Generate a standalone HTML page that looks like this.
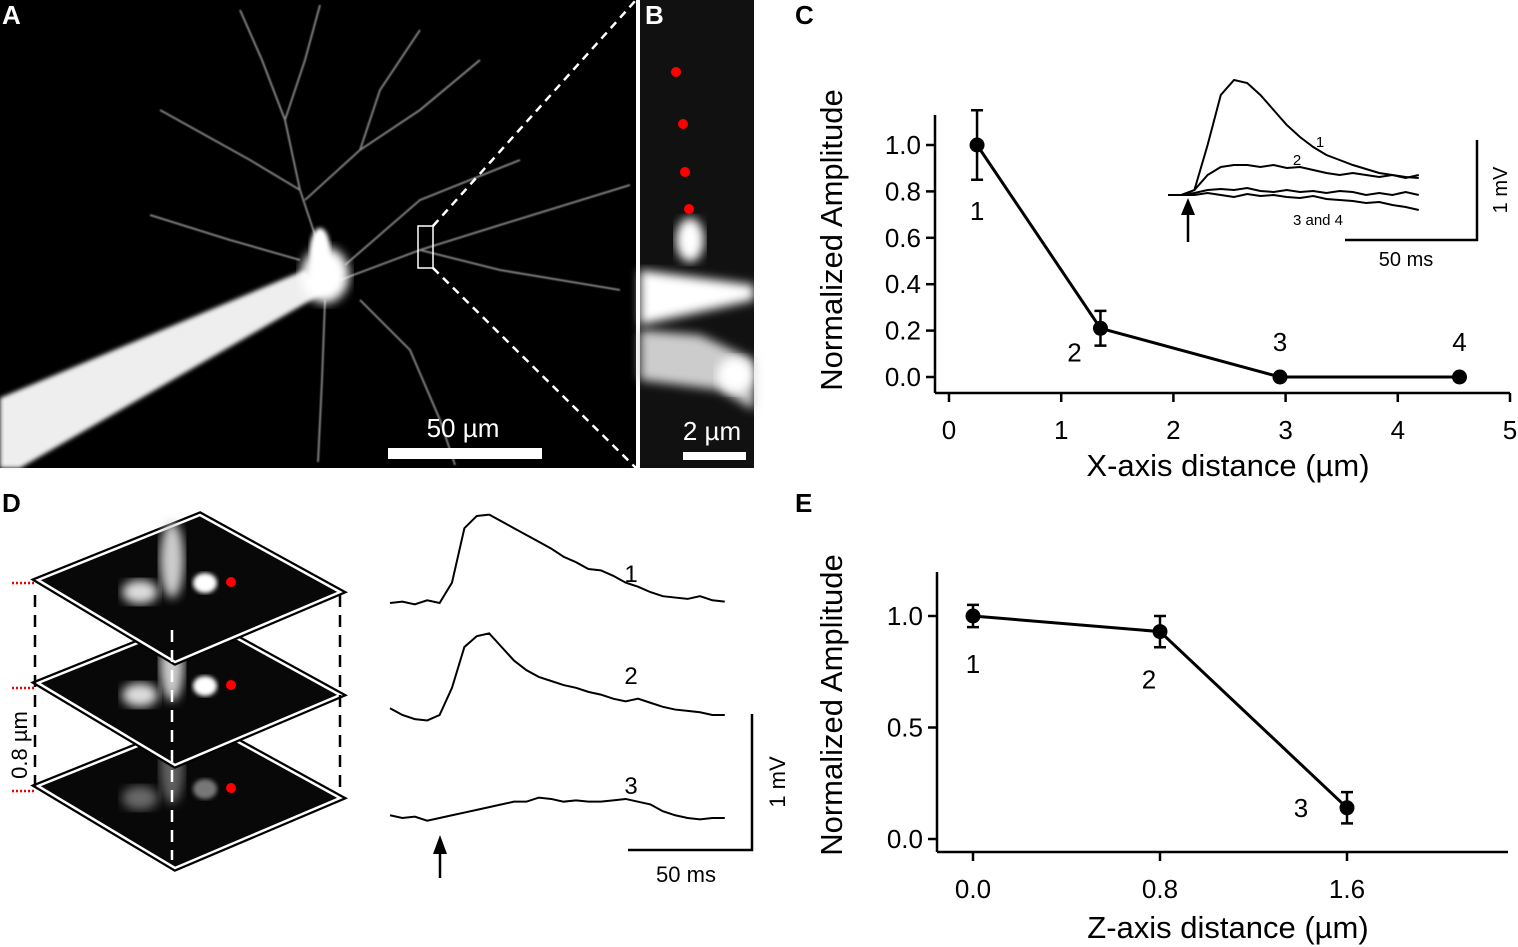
<!DOCTYPE html>
<html><head><meta charset="utf-8">
<style>
html,body{margin:0;padding:0;background:#fff;}
svg{display:block;font-family:"Liberation Sans",sans-serif;}
</style></head>
<body>
<svg id="fig" width="1518" height="947" viewBox="0 0 1518 947" xmlns="http://www.w3.org/2000/svg">
<defs>
<filter id="blur2"><feGaussianBlur stdDeviation="2"/></filter>
<filter id="blur5"><feGaussianBlur stdDeviation="5"/></filter>
<filter id="blur1"><feGaussianBlur stdDeviation="0.8"/></filter>
</defs>

<!-- Panel A -->
<g>
<rect x="0" y="0" width="636" height="468" fill="#000"/>
<g stroke="#bbb" stroke-width="1.8" fill="none" filter="url(#blur1)" opacity="0.75">
<path d="M320,250 L300,190 L285,120 L262,60 L240,10"/>
<path d="M285,120 L305,60 L320,5"/>
<path d="M300,190 L250,160 L160,110"/>
<path d="M305,200 L360,150 L420,110 L480,60"/>
<path d="M360,150 L380,90 L420,30"/>
<path d="M340,280 L420,250 L500,225 L630,185"/>
<path d="M420,250 L500,270 L620,290"/>
<path d="M325,300 L322,380 L318,462"/>
<path d="M360,300 L410,350 L440,420 L455,465"/>
<path d="M300,260 L230,240 L150,215"/>
<path d="M345,265 L420,200 L520,160"/>
</g>
<polygon points="0,398 0,468 20,468 325,292 305,270" fill="#eee" filter="url(#blur2)"/>
<ellipse cx="325" cy="275" rx="24" ry="28" fill="#fff" filter="url(#blur5)"/>
<ellipse cx="320" cy="250" rx="10" ry="22" fill="#fff" filter="url(#blur2)"/>
<rect x="418" y="226" width="15" height="42" fill="none" stroke="#fff" stroke-width="1.5"/>
<line x1="433" y1="226" x2="636" y2="0" stroke="#fff" stroke-width="2.5" stroke-dasharray="8,6"/>
<line x1="433" y1="268" x2="636" y2="468" stroke="#fff" stroke-width="2.5" stroke-dasharray="8,6"/>
<rect x="388" y="448" width="154" height="11" fill="#fff"/>
<text x="463" y="437" fill="#fff" font-size="26" text-anchor="middle">50 µm</text>
<text x="2" y="24" fill="#fff" font-size="26" font-weight="bold">A</text>
</g>

<!-- Panel B -->
<g>
<rect x="640" y="0" width="114" height="468" fill="#111"/>
<ellipse cx="690" cy="240" rx="14" ry="22" fill="#fff" filter="url(#blur5)"/>
<polygon points="640,270 754,285 754,300 640,325" fill="#fff" filter="url(#blur5)"/>
<polygon points="640,330 700,335 754,360 754,410 720,390 640,380" fill="#ccc" filter="url(#blur5)"/>
<ellipse cx="735" cy="375" rx="18" ry="18" fill="#fff" filter="url(#blur5)"/>
<g fill="#f00">
<circle cx="676" cy="72" r="5"/><circle cx="683" cy="124" r="5"/><circle cx="685" cy="172" r="5"/><circle cx="689" cy="209" r="5"/>
</g>
<rect x="683" y="452" width="63" height="8" fill="#fff"/>
<text x="712" y="440" fill="#fff" font-size="26" text-anchor="middle">2 µm</text>
<text x="645" y="24" fill="#fff" font-size="26" font-weight="bold">B</text>
</g>

<text x="795" y="24" fill="#000" font-size="26" font-weight="bold">C</text>
<text x="2" y="512" fill="#000" font-size="26" font-weight="bold">D</text>
<text x="795" y="512" fill="#000" font-size="26" font-weight="bold">E</text>

<g id="chartC"></g>
<g id="insetC"></g>
<g id="chartE"></g>

<!-- Panel D stacks -->
<g>
<g id="stacks"></g>
<line x1="35" y1="595" x2="35" y2="790" stroke="#000" stroke-width="2.5" stroke-dasharray="12,8"/>
<line x1="340" y1="595" x2="340" y2="790" stroke="#000" stroke-width="2.5" stroke-dasharray="12,8"/>
<g stroke="#e00" stroke-width="2.5" stroke-dasharray="2,2">
<line x1="12" y1="583" x2="34" y2="583"/><line x1="12" y1="688" x2="34" y2="688"/><line x1="12" y1="791" x2="34" y2="791"/>
</g>
<text transform="translate(27,745) rotate(-90)" font-size="22" text-anchor="middle">0.8 µm</text>
</g>
<g id="tracesD"></g>
</svg>

<script>
// ---- Chart C data ----
const cDist = [0.25, 1.35, 2.95, 4.55];
const cAmp = [1.0, 0.21, 0.0, 0.0];
const cErr = [0.15, 0.075, 0, 0];
const cPtLabels = ["1","2","3","4"];
const cYTicks = [0.0,0.2,0.4,0.6,0.8,1.0];
const cXTicks = [0,1,2,3,4,5];
// ---- Chart E data ----
const eDist = [0.0, 0.8, 1.6];
const eAmp = [1.0, 0.93, 0.14];
const eErr = [0.05, 0.07, 0.07];
const ePtLabels = ["1","2","3"];
const eYTicks = [0.0,0.5,1.0];
const eXTicks = [0.0,0.8,1.6];
// ---- Inset traces (mV, 5 ms samples) ----
const insetT1 = [0,0,0.05,0.5,1.0,1.15,1.12,1.0,0.85,0.7,0.58,0.48,0.4,0.35,0.3,0.26,0.22,0.2,0.18,0.17];
const insetT2 = [0,0,0.05,0.2,0.28,0.3,0.3,0.28,0.3,0.27,0.28,0.25,0.22,0.2,0.22,0.2,0.18,0.2,0.17,0.2];
const insetT3 = [0,0,0.02,0.05,0.06,0.05,0.07,0.04,0.03,0.05,0.03,0.04,0.02,0.04,0.03,0.0,0.02,0.0,0.03,0.0];
const insetT4 = [0,0,0,0.02,0,-0.02,0.01,-0.01,0,-0.02,-0.03,-0.01,-0.04,-0.05,-0.06,-0.08,-0.07,-0.1,-0.12,-0.15];
// ---- Panel D traces (mV, 5 ms samples) ----
const dT1 = [0,0.01,-0.01,0.02,0.0,0.15,0.55,0.64,0.65,0.6,0.55,0.5,0.45,0.4,0.34,0.3,0.25,0.24,0.2,0.15,0.12,0.08,0.05,0.04,0.03,0.05,0.02,0.01];
const dT2 = [0.05,0.0,-0.03,-0.04,0.0,0.2,0.5,0.58,0.6,0.5,0.4,0.33,0.28,0.25,0.22,0.2,0.17,0.15,0.12,0.1,0.12,0.09,0.06,0.04,0.03,0.02,0.0,0.0];
const dT3 = [0.02,0.0,0.01,-0.02,0.0,0.02,0.04,0.06,0.08,0.1,0.12,0.12,0.15,0.14,0.12,0.13,0.12,0.12,0.13,0.14,0.12,0.1,0.05,0.02,0.0,-0.01,0.0,0.0];

const NS="http://www.w3.org/2000/svg";
function mk(parent,tag,attrs,text){const e=document.createElementNS(NS,tag);for(const k in attrs)e.setAttribute(k,attrs[k]);if(text!==undefined)e.textContent=text;parent.appendChild(e);return e;}

function drawChart(g, o){
  const xS=v=>o.x0+(v-o.xmin)*o.xpx, yS=v=>o.y0-(v-o.ymin)*o.ypx;
  const ax=mk(g,'path',{d:`M${o.axX},${o.yTop} L${o.axX},${o.axY} M${o.axLeft},${o.axY} L${o.axRight},${o.axY}`,stroke:'#000','stroke-width':2.5,fill:'none'});
  
  
  o.yTicks.forEach(t=>{
    mk(g,'line',{x1:o.axX-9,x2:o.axX,y1:yS(t),y2:yS(t),stroke:'#000','stroke-width':2.5});
    const l=mk(g,'text',{x:o.axX-14,y:yS(t)+9,'font-size':26,'text-anchor':'end'},t.toFixed(1));
    
    
  });
  o.xTicks.forEach(t=>{
    mk(g,'line',{x1:xS(t),x2:xS(t),y1:o.axY,y2:o.axY+9,stroke:'#000','stroke-width':2.5});
    const l=mk(g,'text',{x:xS(t),y:o.axY+46,'font-size':26,'text-anchor':'middle'},o.xFmt(t));
    
    
  });
  const line=mk(g,'polyline',{points:o.xs.map((v,i)=>xS(v)+','+yS(o.ys[i])).join(' '),fill:'none',stroke:'#000','stroke-width':3});
  
  
  o.xs.forEach((v,i)=>{
    const x=xS(v),y=yS(o.ys[i]);
    if(o.err[i]>0){
      const e=mk(g,'path',{d:`M${x},${yS(o.ys[i]+o.err[i])} L${x},${yS(o.ys[i]-o.err[i])} M${x-6},${yS(o.ys[i]+o.err[i])} L${x+6},${yS(o.ys[i]+o.err[i])} M${x-6},${yS(o.ys[i]-o.err[i])} L${x+6},${yS(o.ys[i]-o.err[i])}`,stroke:'#000','stroke-width':2.5,fill:'none'});
      
      
    }
    const c=mk(g,'circle',{cx:x,cy:y,r:7.5,fill:'#000'});
    
    
    const lo=o.labOff[i];
    const t=mk(g,'text',{x:x+lo[0],y:y+lo[1],'font-size':26,'text-anchor':'middle'},o.labels[i]);
    
    
  });
  const yt=mk(g,'text',{transform:`translate(${o.ytx},${o.yty}) rotate(-90)`,'font-size':31,'text-anchor':'middle'},'Normalized Amplitude');
  
  
  const xt=mk(g,'text',{x:o.xtx,y:o.xty,'font-size':31,'text-anchor':'middle'},o.xTitle);
  
  
}

drawChart(document.getElementById('chartC'),{
  xmin:0,ymin:0,x0:949,y0:377,xpx:112.2,ypx:232,
  axX:935,yTop:115,axY:393,axLeft:935,axRight:1510,
  yTicks:cYTicks,xTicks:cXTicks,xFmt:t=>String(t),
  xs:cDist,ys:cAmp,err:cErr,labels:cPtLabels,
  labOff:[[0,75],[-26,33],[0,-26],[0,-26]],
  ytx:842,yty:240,xtx:1228,xty:476,xTitle:'X-axis distance (µm)'
});
drawChart(document.getElementById('chartE'),{
  xmin:0,ymin:0,x0:973,y0:839,xpx:233.75,ypx:223,
  axX:937,yTop:572,axY:852,axLeft:937,axRight:1508,
  yTicks:eYTicks,xTicks:eXTicks,xFmt:t=>t.toFixed(1),
  xs:eDist,ys:eAmp,err:eErr,labels:ePtLabels,
  labOff:[[0,57],[-11,57],[-46,9]],
  ytx:842,yty:705,xtx:1228,xty:938,xTitle:'Z-axis distance (µm)'
});

// inset traces
(function(){
  const g=document.getElementById('insetC');
  const x0=1168,y0=195,tpx=132/50,vpx=100;
  [insetT1,insetT2,insetT3,insetT4].forEach(arr=>{
    const p=mk(g,'polyline',{points:arr.map((v,i)=>(x0+i*5*tpx)+','+(y0-v*vpx)).join(' '),fill:'none',stroke:'#000','stroke-width':2});
    
    
  });
  mk(g,'path',{d:'M1477,140 L1477,240 L1345,240',stroke:'#000','stroke-width':2.5,fill:'none'});
  mk(g,'text',{transform:'translate(1507,190) rotate(-90)','font-size':20,'text-anchor':'middle'},'1 mV');
  mk(g,'text',{x:1406,y:266,'font-size':20,'text-anchor':'middle'},'50 ms');
  mk(g,'line',{x1:1188,y1:242,x2:1188,y2:215,stroke:'#000','stroke-width':2.5});
  mk(g,'polygon',{points:'1181,215 1195,215 1188,198',fill:'#000'});
  mk(g,'text',{x:1320,y:147,'font-size':15,'text-anchor':'middle'},'1');
  mk(g,'text',{x:1297,y:165,'font-size':15,'text-anchor':'middle'},'2');
  mk(g,'text',{x:1318,y:225,'font-size':15,'text-anchor':'middle'},'3 and 4');
})();

// D traces
(function(){
  const g=document.getElementById('tracesD');
  const x0=390,tpx=124/50,vpx=136;
  [[dT1,603,'1',573],[dT2,715,'2',675],[dT3,818,'3',785]].forEach(([arr,base,lab,ly])=>{
    const p=mk(g,'polyline',{points:arr.map((v,i)=>(x0+i*5*tpx)+','+(base-v*vpx)).join(' '),fill:'none',stroke:'#000','stroke-width':2});
    
    
    mk(g,'text',{x:631,y:ly+9,'font-size':24,'text-anchor':'middle'},lab);
  });
  mk(g,'path',{d:'M752,714 L752,850 L628,850',stroke:'#000','stroke-width':2.5,fill:'none'});
  mk(g,'text',{transform:'translate(785,782) rotate(-90)','font-size':22,'text-anchor':'middle'},'1 mV');
  mk(g,'text',{x:686,y:882,'font-size':22,'text-anchor':'middle'},'50 ms');
  mk(g,'line',{x1:440,y1:878,x2:440,y2:852,stroke:'#000','stroke-width':2.5});
  mk(g,'polygon',{points:'433,854 447,854 440,835',fill:'#000'});
})();

// stacks
(function(){
  const g=document.getElementById('stacks');
  [0,103,206].reverse().forEach((dy,k)=>{
    const s=mk(g,'g',{});
    
    
    const pts=`38,${580+dy} 200,${515+dy} 340,${592+dy} 175,${662+dy}`;
    mk(s,'polygon',{points:pts,fill:'#050505',stroke:'#000','stroke-width':7});
    mk(s,'polygon',{points:pts,fill:'#080808',stroke:'#fff','stroke-width':2.5});
    const br=dy===206?0.45:1;
    mk(s,'ellipse',{cx:172,cy:560+dy,rx:12,ry:38,fill:'#ccc',opacity:br,filter:'url(#blur5)'});
    mk(s,'ellipse',{cx:140,cy:592+dy,rx:18,ry:12,fill:'#ddd',opacity:br,filter:'url(#blur5)'});
    mk(s,'ellipse',{cx:205,cy:583+dy,rx:12,ry:10,fill:'#fff',opacity:br,filter:'url(#blur2)'});
    mk(s,'circle',{cx:231,cy:582+dy,r:5,fill:'#f00'});
  });
  mk(g,'line',{x1:172,y1:630,x2:172,y2:860,stroke:'#fff','stroke-width':2.5,'stroke-dasharray':'12,8'});
})();
</script>
</body></html>
